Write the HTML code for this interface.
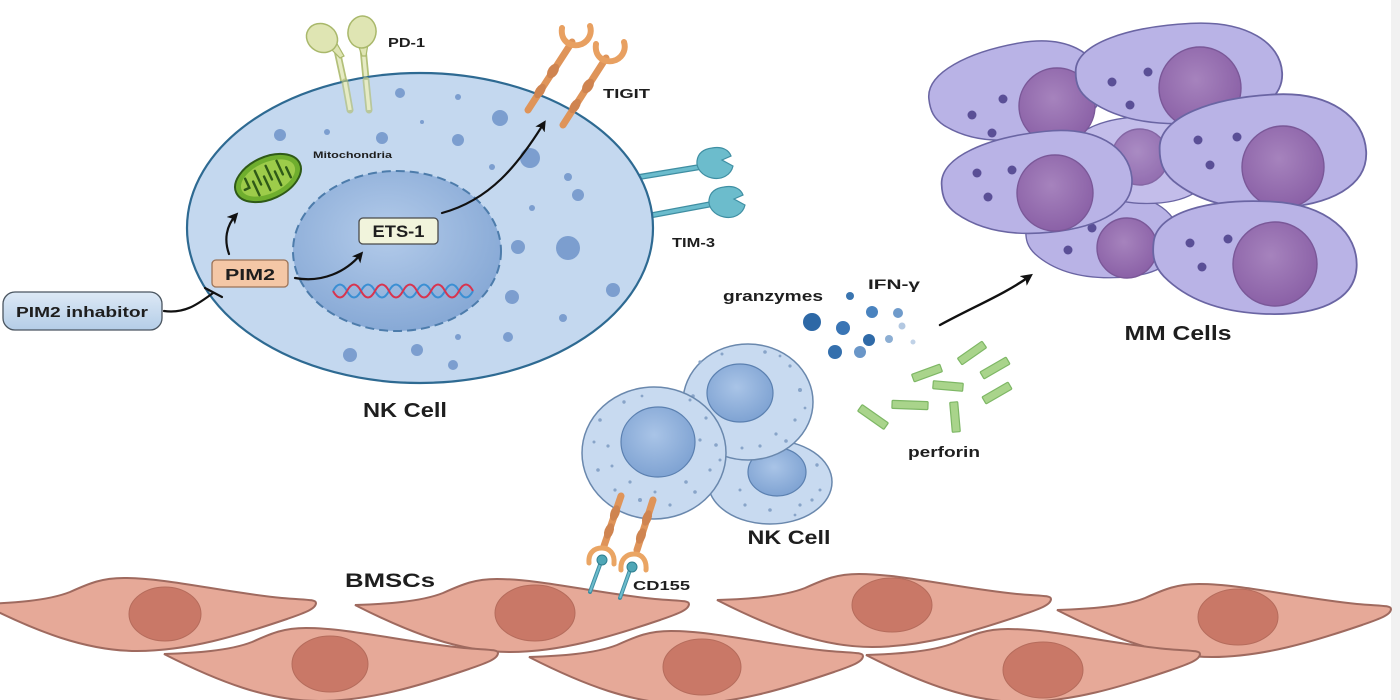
<!DOCTYPE html>
<html><head><meta charset="utf-8">
<style>
html,body{margin:0;padding:0;background:#fff;}
svg{display:block;}
text{font-family:"Liberation Sans",Arial,sans-serif;font-weight:bold;fill:#1e1e1e;}
</style></head><body>
<svg width="1400" height="700" viewBox="0 0 1400 700" xmlns="http://www.w3.org/2000/svg">
<defs>
  <radialGradient id="nkNuc" cx="45%" cy="40%" r="62%">
    <stop offset="0" stop-color="#b3cbea"/><stop offset="1" stop-color="#86a8d5"/>
  </radialGradient>
  <radialGradient id="smNuc" cx="45%" cy="40%" r="62%">
    <stop offset="0" stop-color="#a9c4e7"/><stop offset="1" stop-color="#7ea2d2"/>
  </radialGradient>
  <radialGradient id="mmNuc" cx="45%" cy="40%" r="62%">
    <stop offset="0" stop-color="#a683bd"/><stop offset="1" stop-color="#8a60a6"/>
  </radialGradient>
  <linearGradient id="inh" x1="0" y1="0" x2="0" y2="1">
    <stop offset="0" stop-color="#dde9f6"/><stop offset="1" stop-color="#b4cde7"/>
  </linearGradient>
  <marker id="ah" viewBox="0 0 10 10" refX="7" refY="5" markerWidth="5" markerHeight="5" orient="auto" markerUnits="strokeWidth">
    <path d="M0,0 L10,5 L0,10 L2.5,5 Z" fill="#111"/>
  </marker>
  <path id="bmsc" d="M0,0 C30,-1 65,-3 88,-12 C108,-21 120,-26 142,-26 C185,-26 240,-12 300,-6 C322,-4 334,-5 334,-1 C334,5 322,9 305,15 C255,32 205,47 155,47 C105,47 55,28 0,0 Z"/>
  <path id="mm" d="M-100,-10 C-98,-42 -45,-58 15,-58 C70,-58 102,-30 102,5 C102,40 65,58 10,58 C-40,58 -70,42 -88,25 C-98,15 -101,5 -100,-10 Z"/>
</defs>

<rect x="0" y="0" width="1400" height="700" fill="#fff"/>
<rect x="1391" y="0" width="9" height="700" fill="#f1f1f1"/>

<!-- PD-1 -->
<g>
  <line x1="337" y1="50" x2="350" y2="110" stroke="#b3c07a" stroke-width="7" stroke-linecap="round"/>
  <line x1="337" y1="50" x2="350" y2="110" stroke="#e6ebc4" stroke-width="3.5" stroke-linecap="round"/>
  <line x1="363" y1="48" x2="369" y2="110" stroke="#b3c07a" stroke-width="7" stroke-linecap="round"/>
  <line x1="363" y1="48" x2="369" y2="110" stroke="#e6ebc4" stroke-width="3.5" stroke-linecap="round"/>
  <path d="M328,46 L340,58 L344,56 L336,42 Z" fill="#dfe5b3" stroke="#a9b86b" stroke-width="1.2"/>
  <ellipse cx="322" cy="38" rx="16" ry="14" transform="rotate(30 322 38)" fill="#dfe5b3" stroke="#a9b86b" stroke-width="1.5"/>
  <path d="M358,44 L362,56 L366,56 L368,44 Z" fill="#dfe5b3" stroke="#a9b86b" stroke-width="1.2"/>
  <ellipse cx="362" cy="32" rx="14" ry="16" transform="rotate(10 362 32)" fill="#dfe5b3" stroke="#a9b86b" stroke-width="1.5"/>
</g>

<!-- TIM-3 -->
<g>
  <line x1="609" y1="182" x2="700" y2="167" stroke="#3f8ea2" stroke-width="6" stroke-linecap="round"/>
  <line x1="609" y1="182" x2="700" y2="167" stroke="#6bbccd" stroke-width="3.5" stroke-linecap="round"/>
  <line x1="621" y1="221" x2="712" y2="204" stroke="#3f8ea2" stroke-width="6" stroke-linecap="round"/>
  <line x1="621" y1="221" x2="712" y2="204" stroke="#6bbccd" stroke-width="3.5" stroke-linecap="round"/>
  <path d="M712,148 C722,146 729,150 731,156 L722,160 L733,166 C731,175 722,180 712,178 C702,176 696,168 697,161 C698,153 704,149 712,148 Z" fill="#6cbccc" stroke="#3f8fa3" stroke-width="1.2"/>
  <path d="M724,187 C734,185 741,189 743,195 L734,199 L745,205 C743,214 734,219 724,217 C714,215 708,207 709,200 C710,192 716,188 724,187 Z" fill="#6cbccc" stroke="#3f8fa3" stroke-width="1.2"/>
</g>

<ellipse cx="420" cy="228" rx="233" ry="155" fill="#c4d8ef" stroke="#2e6a92" stroke-width="2.2"/>

<g fill="#7c9ecf">
  <circle cx="400" cy="93" r="5"/><circle cx="458" cy="97" r="3"/><circle cx="327" cy="132" r="3"/>
  <circle cx="422" cy="122" r="2"/><circle cx="280" cy="135" r="6"/><circle cx="382" cy="138" r="6"/>
  <circle cx="458" cy="140" r="6"/><circle cx="500" cy="118" r="8"/><circle cx="530" cy="158" r="10"/>
  <circle cx="492" cy="167" r="3"/><circle cx="568" cy="177" r="4"/><circle cx="578" cy="195" r="6"/>
  <circle cx="532" cy="208" r="3"/><circle cx="568" cy="248" r="12"/><circle cx="518" cy="247" r="7"/>
  <circle cx="613" cy="290" r="7"/><circle cx="512" cy="297" r="7"/><circle cx="563" cy="318" r="4"/>
  <circle cx="458" cy="337" r="3"/><circle cx="508" cy="337" r="5"/><circle cx="417" cy="350" r="6"/>
  <circle cx="350" cy="355" r="7"/><circle cx="453" cy="365" r="5"/>
</g>

<line x1="345" y1="82" x2="350" y2="110" stroke="#b3c07a" stroke-width="7" stroke-linecap="round" opacity="0.7"/>
<line x1="345" y1="82" x2="350" y2="110" stroke="#e6ebc4" stroke-width="3.5"/>
<line x1="366" y1="80" x2="369" y2="110" stroke="#b3c07a" stroke-width="7" stroke-linecap="round" opacity="0.7"/>
<line x1="366" y1="80" x2="369" y2="110" stroke="#e6ebc4" stroke-width="3.5"/>

<ellipse cx="397" cy="251" rx="104" ry="80" fill="url(#nkNuc)" stroke="#4d7cab" stroke-width="2" stroke-dasharray="9 5"/>

<path d="M333,291 q7,-13 14,0 t14,0 t14,0 t14,0 t14,0 t14,0 t14,0 t14,0 t14,0 t14,0" fill="none" stroke="#3b8fd3" stroke-width="2"/>
<path d="M333,291 q7,13 14,0 t14,0 t14,0 t14,0 t14,0 t14,0 t14,0 t14,0 t14,0 t14,0" fill="none" stroke="#d8344f" stroke-width="2"/>

<g transform="translate(268,178) rotate(-25)">
  <ellipse cx="0" cy="0" rx="35" ry="21" fill="#6fae2e" stroke="#2f5a17" stroke-width="2"/>
  <ellipse cx="0" cy="0" rx="29" ry="15.5" fill="#9dcc4a"/>
  <path d="M-26,1 L-21,1 L-21,-9 M-15,12 L-15,-3 M-9,-12 L-9,3 M-3,12 L-3,-3 M3,-12 L3,3 M9,12 L9,-3 M15,-12 L15,3 M21,9 L21,-2" fill="none" stroke="#2f5a17" stroke-width="2.4" stroke-linecap="round"/>
</g>
<text x="313" y="158" font-size="9.5" textLength="79" lengthAdjust="spacingAndGlyphs" fill="#2a2a3a">Mitochondria</text>

<g>
  <line x1="528" y1="110" x2="572" y2="42" stroke="#df9459" stroke-width="7" stroke-linecap="round"/>
  <ellipse cx="540" cy="91" rx="4.5" ry="8" transform="rotate(33 540 91)" fill="#cf8450"/>
  <ellipse cx="553" cy="71" rx="5" ry="8" transform="rotate(33 553 71)" fill="#cf8450"/>
  <path d="M562,28 C560,42 572,48 582,44 C590,40 592,32 590,26" fill="none" stroke="#e8a061" stroke-width="6" stroke-linecap="round"/>
  <line x1="563" y1="125" x2="606" y2="58" stroke="#df9459" stroke-width="7" stroke-linecap="round"/>
  <ellipse cx="575" cy="106" rx="4.5" ry="8" transform="rotate(33 575 106)" fill="#cf8450"/>
  <ellipse cx="588" cy="86" rx="5" ry="8" transform="rotate(33 588 86)" fill="#cf8450"/>
  <path d="M596,44 C594,58 606,64 616,60 C624,56 626,48 624,42" fill="none" stroke="#e8a061" stroke-width="6" stroke-linecap="round"/>
</g>

<rect x="359" y="218" width="79" height="26" rx="4" fill="#f1f4dc" stroke="#4a4a4a" stroke-width="1.3"/>
<text x="398.5" y="237" font-size="17" text-anchor="middle" textLength="52" lengthAdjust="spacingAndGlyphs">ETS-1</text>
<rect x="212" y="260" width="76" height="27" rx="4" fill="#f4c7a6" stroke="#9b7358" stroke-width="1.3"/>
<text x="250" y="280" font-size="16" text-anchor="middle" textLength="50" lengthAdjust="spacingAndGlyphs">PIM2</text>
<rect x="3" y="292" width="159" height="38" rx="12" fill="url(#inh)" stroke="#4a5560" stroke-width="1.3"/>
<text x="82" y="317" font-size="15" text-anchor="middle" textLength="132" lengthAdjust="spacingAndGlyphs">PIM2 inhabitor</text>

<g fill="none" stroke="#111" stroke-width="2.2" stroke-linecap="round">
  <path d="M229,254 C224,240 226,226 236,215" marker-end="url(#ah)"/>
  <path d="M295,278 C322,283 346,272 361,254" marker-end="url(#ah)"/>
  <path d="M442,213 C490,200 518,165 544,123" marker-end="url(#ah)"/>
  <path d="M164,311 C186,314 199,303 213,293"/>
  <line x1="205" y1="288" x2="222" y2="297"/>
</g>

<text x="405" y="417" font-size="20" text-anchor="middle" textLength="84" lengthAdjust="spacingAndGlyphs">NK Cell</text>
<text x="388" y="47" font-size="13" textLength="37" lengthAdjust="spacingAndGlyphs">PD-1</text>
<text x="603" y="98" font-size="13" textLength="47" lengthAdjust="spacingAndGlyphs">TIGIT</text>
<text x="672" y="247" font-size="13" textLength="43" lengthAdjust="spacingAndGlyphs">TIM-3</text>

<!-- MM CELLS -->
<g stroke="#6a65a3" stroke-width="1.4">
  <g>
    <use href="#mm" transform="translate(1102,236) scale(0.76,0.72)" fill="#b9b3e6" vector-effect="non-scaling-stroke" stroke-width="1.8"/>
    <circle cx="1127" cy="248" r="30" fill="url(#mmNuc)" stroke="#7a5898"/>
    <circle cx="1068" cy="250" r="4.5" fill="#5a4f96" stroke="none"/>
    <circle cx="1092" cy="228" r="4.5" fill="#5a4f96" stroke="none"/>
  </g>
  <g>
    <use href="#mm" transform="translate(1140,160) scale(0.7,0.75)" fill="#c3bdea" vector-effect="non-scaling-stroke" stroke-width="1.8"/>
    <circle cx="1140" cy="157" r="28" fill="url(#mmNuc)" stroke="#7a5898" opacity="0.85"/>
    <circle cx="1177" cy="177" r="4" fill="#8a80b8" stroke="none"/>
  </g>
  <g>
    <use href="#mm" transform="translate(1015,92) rotate(-10) scale(0.86,0.82)" fill="#b9b3e6" vector-effect="non-scaling-stroke" stroke-width="1.8"/>
    <circle cx="1057" cy="106" r="38" fill="url(#mmNuc)" stroke="#7a5898"/>
    <circle cx="972" cy="115" r="4.5" fill="#5a4f96" stroke="none"/>
    <circle cx="1003" cy="99" r="4.5" fill="#5a4f96" stroke="none"/>
    <circle cx="992" cy="133" r="4.5" fill="#5a4f96" stroke="none"/>
  </g>
  <g>
    <use href="#mm" transform="translate(1178,74) rotate(-3) scale(1.02,0.86)" fill="#b9b3e6" vector-effect="non-scaling-stroke" stroke-width="1.8"/>
    <circle cx="1200" cy="88" r="41" fill="url(#mmNuc)" stroke="#7a5898"/>
    <circle cx="1112" cy="82" r="4.5" fill="#5a4f96" stroke="none"/>
    <circle cx="1148" cy="72" r="4.5" fill="#5a4f96" stroke="none"/>
    <circle cx="1130" cy="105" r="4.5" fill="#5a4f96" stroke="none"/>
  </g>
  <g>
    <use href="#mm" transform="translate(1036,183) rotate(-6) scale(0.94,0.87)" fill="#b9b3e6" vector-effect="non-scaling-stroke" stroke-width="1.8"/>
    <circle cx="1055" cy="193" r="38" fill="url(#mmNuc)" stroke="#7a5898"/>
    <circle cx="977" cy="173" r="4.5" fill="#5a4f96" stroke="none"/>
    <circle cx="1012" cy="170" r="4.5" fill="#5a4f96" stroke="none"/>
    <circle cx="988" cy="197" r="4.5" fill="#5a4f96" stroke="none"/>
  </g>
  <g>
    <use href="#mm" transform="translate(1262,152) rotate(-3) scale(1.02,0.98)" fill="#b9b3e6" vector-effect="non-scaling-stroke" stroke-width="1.8"/>
    <circle cx="1283" cy="167" r="41" fill="url(#mmNuc)" stroke="#7a5898"/>
    <circle cx="1198" cy="140" r="4.5" fill="#5a4f96" stroke="none"/>
    <circle cx="1237" cy="137" r="4.5" fill="#5a4f96" stroke="none"/>
    <circle cx="1210" cy="165" r="4.5" fill="#5a4f96" stroke="none"/>
  </g>
  <g>
    <use href="#mm" transform="translate(1254,257) rotate(3) scale(1.01,0.97)" fill="#b9b3e6" vector-effect="non-scaling-stroke" stroke-width="1.8"/>
    <circle cx="1275" cy="264" r="42" fill="url(#mmNuc)" stroke="#7a5898"/>
    <circle cx="1190" cy="243" r="4.5" fill="#5a4f96" stroke="none"/>
    <circle cx="1228" cy="239" r="4.5" fill="#5a4f96" stroke="none"/>
    <circle cx="1202" cy="267" r="4.5" fill="#5a4f96" stroke="none"/>
  </g>
</g>
<text x="1178" y="340" font-size="20" text-anchor="middle" textLength="107" lengthAdjust="spacingAndGlyphs">MM Cells</text>

<path d="M940,325 C975,306 1005,294 1030,276" fill="none" stroke="#111" stroke-width="2.4" stroke-linecap="round" marker-end="url(#ah)"/>

<g>
  <circle cx="850" cy="296" r="4" fill="#3a75b0"/>
  <circle cx="872" cy="312" r="6" fill="#4a83bf"/>
  <circle cx="898" cy="313" r="5" fill="#6f9bcb"/>
  <circle cx="902" cy="326" r="3.5" fill="#b3c8e1"/>
  <circle cx="812" cy="322" r="9" fill="#2d68a6"/>
  <circle cx="843" cy="328" r="7" fill="#3a75b5"/>
  <circle cx="869" cy="340" r="6" fill="#2f6aa8"/>
  <circle cx="889" cy="339" r="4" fill="#8caed3"/>
  <circle cx="913" cy="342" r="2.5" fill="#c0d2e7"/>
  <circle cx="835" cy="352" r="7" fill="#3570ad"/>
  <circle cx="860" cy="352" r="6" fill="#6a96c8"/>
</g>
<g fill="#a9d48b" stroke="#7eb765" stroke-width="1.2">
  <rect x="-15" y="-4" width="30" height="8" rx="1" transform="translate(972,353) rotate(-35)"/>
  <rect x="-15" y="-4" width="30" height="8" rx="1" transform="translate(927,373) rotate(-20)"/>
  <rect x="-15" y="-4" width="30" height="8" rx="1" transform="translate(995,368) rotate(-30)"/>
  <rect x="-15" y="-4" width="30" height="8" rx="1" transform="translate(948,386) rotate(5)"/>
  <rect x="-15" y="-4" width="30" height="8" rx="1" transform="translate(997,393) rotate(-30)"/>
  <rect x="-18" y="-4" width="36" height="8" rx="1" transform="translate(910,405) rotate(2)"/>
  <rect x="-15" y="-4" width="30" height="8" rx="1" transform="translate(955,417) rotate(85)"/>
  <rect x="-16" y="-4" width="32" height="8" rx="1" transform="translate(873,417) rotate(35)"/>
</g>
<text x="773" y="301" font-size="15" text-anchor="middle" textLength="100" lengthAdjust="spacingAndGlyphs" fill="#333">granzymes</text>
<text x="894" y="289" font-size="14" text-anchor="middle" textLength="52" lengthAdjust="spacingAndGlyphs" fill="#333">IFN-γ</text>
<text x="944" y="457" font-size="15" text-anchor="middle" textLength="72" lengthAdjust="spacingAndGlyphs" fill="#333">perforin</text>

<g stroke="#9f6a5f" stroke-width="2">
  <use href="#bmsc" transform="translate(-18,604)" fill="#e6a998"/>
  <ellipse cx="165" cy="614" rx="36" ry="27" fill="#c97867" stroke="#b56c5c" stroke-width="1"/>
  <use href="#bmsc" transform="translate(355,605)" fill="#e6a998"/>
  <ellipse cx="535" cy="613" rx="40" ry="28" fill="#c97867" stroke="#b56c5c" stroke-width="1"/>
  <use href="#bmsc" transform="translate(717,600)" fill="#e6a998"/>
  <ellipse cx="892" cy="605" rx="40" ry="27" fill="#c97867" stroke="#b56c5c" stroke-width="1"/>
  <use href="#bmsc" transform="translate(1057,610)" fill="#e6a998"/>
  <ellipse cx="1238" cy="617" rx="40" ry="28" fill="#c97867" stroke="#b56c5c" stroke-width="1"/>
</g>

<g>
  <ellipse cx="770" cy="482" rx="62" ry="42" fill="#c8daf0" stroke="#6a88ad" stroke-width="1.5"/>
  <ellipse cx="777" cy="472" rx="29" ry="24" fill="url(#smNuc)" stroke="#5b80b0" stroke-width="1.2"/>
  <g fill="#88a4c8">
    <circle cx="745" cy="505" r="1.6"/><circle cx="770" cy="510" r="1.8"/><circle cx="800" cy="505" r="1.6"/>
    <circle cx="820" cy="490" r="1.5"/><circle cx="817" cy="465" r="1.7"/><circle cx="740" cy="490" r="1.5"/>
    <circle cx="795" cy="515" r="1.4"/><circle cx="812" cy="500" r="1.6"/>
  </g>
  <ellipse cx="748" cy="402" rx="65" ry="58" fill="#c8daf0" stroke="#6a88ad" stroke-width="1.5"/>
  <ellipse cx="740" cy="393" rx="33" ry="29" fill="url(#smNuc)" stroke="#5b80b0" stroke-width="1.2"/>
  <g fill="#88a4c8">
    <circle cx="700" cy="362" r="1.6"/><circle cx="722" cy="354" r="1.5"/><circle cx="765" cy="352" r="1.8"/>
    <circle cx="790" cy="366" r="1.6"/><circle cx="800" cy="390" r="2"/><circle cx="795" cy="420" r="1.6"/>
    <circle cx="786" cy="441" r="1.8"/><circle cx="805" cy="408" r="1.4"/><circle cx="776" cy="434" r="1.6"/>
    <circle cx="700" cy="422" r="1.6"/><circle cx="693" cy="396" r="1.8"/><circle cx="760" cy="446" r="1.6"/>
    <circle cx="780" cy="356" r="1.4"/><circle cx="742" cy="448" r="1.5"/>
  </g>
  <ellipse cx="654" cy="453" rx="72" ry="66" fill="#c8daf0" stroke="#6a88ad" stroke-width="1.5"/>
  <ellipse cx="658" cy="442" rx="37" ry="35" fill="url(#smNuc)" stroke="#5b80b0" stroke-width="1.2"/>
  <g fill="#88a4c8">
    <circle cx="600" cy="420" r="1.8"/><circle cx="608" cy="446" r="1.6"/><circle cx="598" cy="470" r="1.8"/>
    <circle cx="615" cy="490" r="1.6"/><circle cx="640" cy="500" r="2"/><circle cx="670" cy="505" r="1.6"/>
    <circle cx="695" cy="492" r="1.8"/><circle cx="710" cy="470" r="1.6"/><circle cx="716" cy="445" r="1.8"/>
    <circle cx="706" cy="418" r="1.6"/><circle cx="690" cy="400" r="1.5"/><circle cx="624" cy="402" r="1.7"/>
    <circle cx="642" cy="396" r="1.4"/><circle cx="700" cy="440" r="1.6"/><circle cx="612" cy="466" r="1.5"/>
    <circle cx="630" cy="482" r="1.6"/><circle cx="686" cy="482" r="1.8"/><circle cx="720" cy="460" r="1.5"/>
    <circle cx="594" cy="442" r="1.5"/><circle cx="655" cy="492" r="1.5"/>
  </g>
</g>
<text x="789" y="544" font-size="19" text-anchor="middle" textLength="83" lengthAdjust="spacingAndGlyphs">NK Cell</text>

<g>
  <line x1="601" y1="562" x2="590" y2="592" stroke="#3f8ea2" stroke-width="4" stroke-linecap="round"/>
  <line x1="601" y1="562" x2="590" y2="592" stroke="#6bbccd" stroke-width="2"/>
  <line x1="630" y1="570" x2="620" y2="598" stroke="#3f8ea2" stroke-width="4" stroke-linecap="round"/>
  <line x1="630" y1="570" x2="620" y2="598" stroke="#6bbccd" stroke-width="2"/>
  <line x1="621" y1="496" x2="604" y2="546" stroke="#df9459" stroke-width="7" stroke-linecap="round"/>
  <ellipse cx="615" cy="513" rx="4.5" ry="8" transform="rotate(20 615 513)" fill="#cf8450"/>
  <ellipse cx="609" cy="531" rx="4.5" ry="8" transform="rotate(20 609 531)" fill="#cf8450"/>
  <line x1="653" y1="500" x2="637" y2="550" stroke="#df9459" stroke-width="7" stroke-linecap="round"/>
  <ellipse cx="647" cy="518" rx="4.5" ry="8" transform="rotate(20 647 518)" fill="#cf8450"/>
  <ellipse cx="641" cy="536" rx="4.5" ry="8" transform="rotate(20 641 536)" fill="#cf8450"/>
  <path d="M589,563 C588,552 595,548 602,548 C609,548 615,553 614,564" fill="none" stroke="#eaa564" stroke-width="5" stroke-linecap="round"/>
  <path d="M621,570 C620,559 627,554 634,554 C641,554 647,559 646,570" fill="none" stroke="#eaa564" stroke-width="5" stroke-linecap="round"/>
  <circle cx="602" cy="560" r="5" fill="#4fa6b6" stroke="#2f7f90" stroke-width="1"/>
  <circle cx="632" cy="567" r="5" fill="#4fa6b6" stroke="#2f7f90" stroke-width="1"/>
</g>
<text x="633" y="590" font-size="13" textLength="57" lengthAdjust="spacingAndGlyphs">CD155</text>
<text x="345" y="587" font-size="19" textLength="90" lengthAdjust="spacingAndGlyphs">BMSCs</text>

<g stroke="#9f6a5f" stroke-width="2">
  <use href="#bmsc" transform="translate(164,654)" fill="#e6a998"/>
  <ellipse cx="330" cy="664" rx="38" ry="28" fill="#c97867" stroke="#b56c5c" stroke-width="1"/>
  <use href="#bmsc" transform="translate(529,657)" fill="#e6a998"/>
  <ellipse cx="702" cy="667" rx="39" ry="28" fill="#c97867" stroke="#b56c5c" stroke-width="1"/>
  <use href="#bmsc" transform="translate(866,655)" fill="#e6a998"/>
  <ellipse cx="1043" cy="670" rx="40" ry="28" fill="#c97867" stroke="#b56c5c" stroke-width="1"/>
</g>

</svg>
</body></html>
